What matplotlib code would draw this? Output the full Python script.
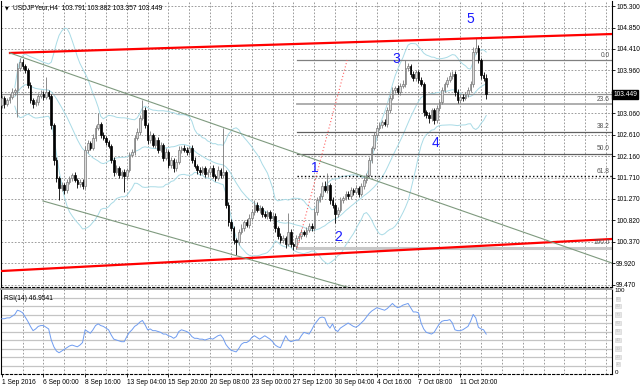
import numpy as np
import pandas as pd
import matplotlib
matplotlib.use("Agg")
import matplotlib.pyplot as plt
import matplotlib.transforms as mtrans

plt.rcParams["font.family"] = ["Liberation Sans", "DejaVu Sans"]

# USDJPY H4 closes, 1 Sep - 12 Oct 2016
closes = [
    103.38, 103.25, 103.33, 103.40, 103.50, 103.54, 104.00, 104.13, 104.04, 103.96,
    103.65, 103.33, 103.25, 103.29, 103.42, 103.46, 103.40, 103.50, 103.42, 102.81,
    102.08, 101.70, 101.49, 101.55, 101.45, 101.62, 101.70, 101.76, 101.66, 101.57,
    101.62, 101.53, 102.29, 102.43, 102.33, 102.54, 102.75, 102.83, 102.60, 102.54,
    102.45, 102.37, 102.08, 101.83, 101.91, 101.76, 101.83, 101.74, 101.87, 102.18,
    102.24, 102.54, 102.66, 102.96, 103.12, 102.81, 102.50, 102.60, 102.39, 102.50,
    102.29, 102.39, 102.12, 102.24, 101.97, 102.08, 101.91, 102.04, 102.29, 102.33,
    102.29, 102.24, 102.33, 102.08, 101.95, 101.87, 101.83, 101.91, 101.78, 101.83,
    101.91, 101.74, 101.70, 101.87, 101.76, 101.83, 101.14, 100.78, 100.65, 100.40,
    100.36, 100.57, 100.65, 100.78, 100.72, 100.86, 100.99, 101.14, 101.03, 101.07,
    100.95, 100.91, 100.99, 100.86, 100.91, 100.65, 100.49, 100.40, 100.44, 100.32,
    100.57, 100.32, 100.28, 100.44, 100.49, 100.57, 100.53, 100.61, 100.70, 100.65,
    100.99, 101.24, 101.32, 101.53, 101.45, 101.55, 101.24, 101.14, 100.95, 101.03,
    101.24, 101.28, 101.37, 101.32, 101.45, 101.41, 101.49, 101.37, 101.53, 101.66,
    101.76, 102.08, 102.33, 102.60, 102.75, 102.81, 102.87, 102.83, 103.12, 103.38,
    103.54, 103.58, 103.50, 103.63, 103.67, 104.00, 104.04, 103.88, 103.79, 103.92,
    103.75, 103.67, 103.08, 103.02, 102.96, 103.12, 102.91, 103.17, 103.29, 103.54,
    103.67, 103.75, 103.83, 103.88, 103.50, 103.33, 103.40, 103.38, 103.46, 103.54,
    103.67, 104.34, 104.42, 104.17, 103.86, 103.791, 103.449,
]
first_open = 103.22

# wick lengths in pips (0.01)
upper_wick = [
    6, 4, 5, 6, 8, 5, 10, 8, 6, 5,
    4, 5, 4, 6, 5, 8, 6, 31, 5, 4,
    4, 5, 4, 6, 5, 6, 4, 5, 6, 4,
    5, 6, 8, 6, 5, 8, 6, 23, 5, 6,
    4, 5, 4, 5, 6, 5, 4, 6, 5, 6,
    6, 5, 8, 6, 21, 6, 5, 8, 4, 6,
    5, 6, 4, 8, 5, 6, 4, 6, 8, 5,
    6, 5, 4, 6, 5, 4, 6, 5, 4, 6,
    5, 6, 4, 8, 5, 92, 4, 5, 6, 4,
    5, 6, 8, 5, 6, 8, 6, 10, 5, 6,
    5, 6, 5, 4, 6, 5, 4, 5, 6, 5,
    40, 6, 5, 6, 5, 6, 4, 6, 5, 6,
    8, 6, 6, 8, 10, 25, 5, 6, 4, 6,
    6, 5, 6, 5, 6, 5, 6, 5, 6, 6,
    5, 6, 5, 6, 5, 6, 5, 6, 6, 5,
    6, 5, 6, 5, 8, 17, 6, 5, 6, 5,
    5, 6, 4, 5, 6, 5, 4, 6, 5, 6,
    5, 6, 8, 6, 5, 6, 5, 6, 5, 6,
    6, 10, 21, 6, 5, 6, 9,
]
lower_wick = [
    6, 8, 5, 6, 5, 6, 56, 6, 5, 6,
    6, 5, 8, 5, 6, 5, 6, 4, 6, 8,
    10, 8, 25, 6, 8, 6, 5, 6, 5, 8,
    6, 5, 5, 6, 5, 4, 6, 5, 6, 5,
    6, 5, 6, 8, 5, 6, 5, 33, 6, 5,
    5, 6, 5, 6, 5, 6, 8, 6, 5, 6,
    6, 5, 6, 5, 6, 5, 8, 6, 5, 6,
    5, 6, 5, 6, 5, 8, 6, 5, 6, 5,
    6, 5, 6, 5, 6, 5, 6, 8, 6, 8,
    27, 6, 5, 6, 5, 6, 5, 6, 5, 6,
    6, 5, 6, 5, 6, 8, 6, 5, 6, 8,
    5, 6, 9, 6, 5, 6, 5, 6, 5, 6,
    5, 6, 5, 6, 5, 6, 8, 6, 19, 6,
    5, 6, 5, 6, 5, 6, 5, 6, 5, 5,
    6, 5, 6, 5, 6, 5, 6, 5, 6, 5,
    5, 6, 5, 6, 5, 6, 5, 6, 5, 6,
    6, 5, 8, 6, 10, 6, 8, 5, 6, 5,
    5, 6, 5, 6, 8, 6, 5, 6, 5, 6,
    5, 6, 5, 6, 8, 6, 9,
]

# RSI(14) as shown in the lower window
rsi_values = [
    65, 65, 66, 66, 68, 70, 75, 74, 72, 67,
    62, 56, 51, 53, 56, 57, 57, 55, 53, 40,
    32, 27, 25, 27, 29, 31, 33, 34, 33, 32,
    34, 37, 52, 50, 48, 52, 57, 59, 57, 56,
    54, 52, 46, 41, 40, 39, 38, 38, 44, 49,
    52, 56, 58, 61, 63, 58, 52, 53, 51, 51,
    50, 49, 47, 47, 45, 44, 42, 44, 50, 52,
    51, 50, 48, 44, 42, 42, 41, 41, 40, 41,
    42, 41, 43, 45, 46, 42, 35, 31, 28, 27,
    26, 30, 35, 37, 37, 39, 43, 45, 43, 41,
    43, 45, 43, 41, 38, 34, 32, 31, 38, 45,
    40, 38, 39, 40, 40, 45, 49, 48, 47, 52,
    58, 62, 66, 67, 66, 58, 54, 59, 52, 50,
    54, 56, 58, 60, 58, 56, 55, 57, 60, 63,
    67, 71, 74, 76, 78, 77, 76, 75, 77, 80,
    83, 80, 78, 79, 81, 82, 83, 78, 73, 73,
    72, 60, 53, 49, 48, 47, 49, 54, 59, 62,
    63, 63, 64, 60, 52, 51, 51, 52, 54, 56,
    62, 70, 66, 55, 53, 52, 46.95,
]

price_ticks = [105.300, 104.850, 104.410, 103.960, 103.510, 103.060, 102.610,
               102.160, 101.710, 101.270, 100.820, 100.370, 99.920, 99.470]
date_labels = ["1 Sep 2016", "6 Sep 00:00", "8 Sep 16:00", "13 Sep 04:00",
               "15 Sep 20:00", "20 Sep 08:00", "23 Sep 00:00", "27 Sep 12:00",
               "30 Sep 04:00", "4 Oct 16:00", "7 Oct 08:00", "11 Oct 20:00"]
bars_per_label = 16

# drawn objects: (bar, price) anchors
red_upper = [(3.15, 104.317), (234.3, 104.714)]
red_lower = [(0.0, 99.754), (234.3, 100.424)]
chan_upper = [(3.15, 104.317), (234.3, 99.920)]
chan_lower = [(15.8, 101.22), (133.7, 99.40)]
fib_base = [(113.4, 100.24), (132.6, 104.17)]
fib_levels = [0.0, 23.6, 38.2, 50.0, 61.8, 100.0]
fib_colors = ["#808080", "#a8a8a8", "#606060", "#606060", "black", "#c8c8c8"]
fib_styles = ["-", "-", "-", "-", ":", "-"]
fib_widths = [0.9, 1.3, 0.9, 0.9, 1.0, 2.2]
wave_labels = ["1", "2", "3", "4", "5"]
wave_pos = [(120.3, 101.91), (129.1, 100.47), (151.4, 104.19), (166.7, 102.43), (179.8, 105.03)]
bid = 103.449
rsi_value_text = "46.9541"

XMIN, XMAX = -0.3, 234.3
YMIN, YMAX = 99.419, 105.405

c = np.array(closes)
o = np.concatenate([[first_open], c[:-1]])
hi = np.maximum(o, c) + np.array(upper_wick) / 100.0
lo = np.minimum(o, c) - np.array(lower_wick) / 100.0
x = np.arange(len(c))

fig = plt.figure(figsize=(6.4, 3.88), dpi=100)
ax = fig.add_axes([1 / 640, 1 - 287 / 388, 611 / 640, 286 / 388])
rax = fig.add_axes([1 / 640, 1 - 374 / 388, 611 / 640, 85 / 388])

GRID = dict(color="#8c8c8c", linestyle=(0, (2, 2)), linewidth=0.6)
FS = 4.8

# grid
for p in price_ticks:
    ax.axhline(p, zorder=0, **GRID)
vgrid = np.arange(8, XMAX, 8)
for v in vgrid:
    ax.axvline(v, zorder=0, **GRID)
    rax.axvline(v, zorder=0, **GRID)

# bollinger bands (20, 2)
s = pd.Series(c)
mid = s.rolling(20, min_periods=6).mean()
sd = s.rolling(20, min_periods=6).std(ddof=0)
for band in (mid, mid + 2 * sd, mid - 2 * sd):
    ax.plot(x, band, color="#a9dbe6", lw=0.7, zorder=1)

# candles
bull = c >= o
ax.vlines(x[bull], lo[bull], hi[bull], color="#7a7a7a", lw=0.6, zorder=3)
ax.vlines(x[~bull], lo[~bull], hi[~bull], color="black", lw=0.6, zorder=3)
body_h = np.maximum(np.abs(c - o), 0.012)
body_b = np.minimum(o, c)
ax.bar(x[bull], body_h[bull], bottom=body_b[bull], width=0.62,
       color="#dcdcdc", edgecolor="#7a7a7a", linewidth=0.5, zorder=4)
ax.bar(x[~bull], body_h[~bull], bottom=body_b[~bull], width=0.62,
       color="black", edgecolor="black", linewidth=0.5, zorder=4)

# bid line
ax.axhline(bid, color="#909090", lw=0.9, zorder=2)

# trend lines
def seg(pts, **kw):
    (x0, y0), (x1, y1) = pts
    ax.plot([x0, x1], [y0, y1], **kw)

seg(red_upper, color="red", lw=1.6, zorder=5)
seg(red_lower, color="red", lw=1.6, zorder=5)
seg(chan_upper, color="#7f9a7f", lw=0.8, zorder=5)
seg(chan_lower, color="#7f9a7f", lw=0.8, zorder=5)
seg(fib_base, color="#ff6060", lw=0.8, linestyle=(0, (1, 2)), zorder=5)

f_lo, f_hi = fib_base[0][1], fib_base[1][1]
for lvl, col, ls, lw in zip(fib_levels, fib_colors, fib_styles, fib_widths):
    py = f_hi - (f_hi - f_lo) * lvl / 100.0
    ax.plot([fib_base[0][0], XMAX], [py, py], color=col, lw=lw, linestyle=ls, zorder=2)
    ax.text(233.5, py + 0.03, f"{lvl:.1f}", ha="right", va="bottom",
            fontsize=FS, color="#555555", zorder=6)

for lab, (bx, py) in zip(wave_labels, wave_pos):
    ax.text(bx, py, lab, color="#1a1aff", fontsize=10, ha="center", va="center", zorder=6)

# title
ax.text(0.006, 0.985, "\u25bc", transform=ax.transAxes, fontsize=3.5,
        va="top", ha="left", family=["DejaVu Sans"])
ax.text(0.019, 0.988, "USDJPYeur,H4  103.791 103.882 103.357 103.449",
        transform=ax.transAxes, fontsize=FS, va="top", ha="left")

ax.set_xlim(XMIN, XMAX)
ax.set_ylim(YMIN, YMAX)
ax.yaxis.tick_right()
ax.set_yticks(price_ticks)
# 103.510 sits under the bid box, as in the terminal
ax.set_yticklabels(["" if abs(p - 103.51) < 1e-6 else f"{p:.3f}" for p in price_ticks],
                   fontsize=FS)
ax.tick_params(axis="y", length=2, width=0.6, pad=1)
ax.set_xticks([])
for sp in ("left", "right"):
    ax.spines[sp].set_color("black")
    ax.spines[sp].set_linewidth(0.8)
ax.spines["top"].set_visible(False)
ax.spines["bottom"].set_linestyle((0, (2, 2)))
ax.spines["bottom"].set_linewidth(0.8)

trans = mtrans.blended_transform_factory(ax.transAxes, ax.transData)
ax.text(1.002, bid, f"{bid:.3f}", transform=trans, fontsize=FS, color="white",
        va="center", ha="left", zorder=10,
        bbox=dict(boxstyle="square,pad=0.15", fc="black", ec="black"))

# RSI(14) window
for lvl in range(10, 100, 10):
    rax.axhline(lvl, color="#c4c4c4", lw=0.9, zorder=0)
rax.plot(x, rsi_values, color="#6f9cf0", lw=0.7, zorder=3)
rax.set_xlim(XMIN, XMAX)
rax.set_ylim(0, 100)
rax.text(0.005, 0.93, f"RSI(14) {rsi_value_text}", transform=rax.transAxes,
         fontsize=FS, va="top", ha="left")
rax.set_yticks([])
rtrans = mtrans.blended_transform_factory(rax.transAxes, rax.transData)
rax.text(1.004, 101, "100", transform=rtrans, fontsize=FS - 0.3, va="top", ha="left")
rax.text(1.004, -1.5, "0", transform=rtrans, fontsize=FS - 0.3, va="bottom", ha="left")
for lvl in range(20, 90, 10):
    rax.text(1.006, lvl, str(lvl), transform=rtrans, fontsize=3.2,
             color="#c0c0c0", va="center", ha="left",
             bbox=dict(boxstyle="square,pad=0.05", fc="#e6e6e6", ec="#d0d0d0", lw=0.4))
for lvl, yy in ((90, 88.5), (10, 11.5)):
    rax.text(1.006, yy, str(lvl), transform=rtrans, fontsize=3.0,
             color="#c0c0c0", va="center", ha="left",
             bbox=dict(boxstyle="square,pad=0.03", fc="#e6e6e6", ec="#d0d0d0", lw=0.4))

tick_bars = [i * bars_per_label for i in range(len(date_labels))]
rax.set_xticks(tick_bars)
rax.set_xticklabels(date_labels, fontsize=FS, ha="left")
rax.tick_params(axis="x", length=2, width=0.6, pad=1.5)
for sp in ("left", "right"):
    rax.spines[sp].set_linewidth(0.8)
rax.spines["top"].set_color("#a0a0a0")
rax.spines["top"].set_linewidth(1.4)
rax.spines["bottom"].set_linestyle((0, (2, 2)))
rax.spines["bottom"].set_linewidth(0.8)

fig.savefig("out.png", dpi=100)
